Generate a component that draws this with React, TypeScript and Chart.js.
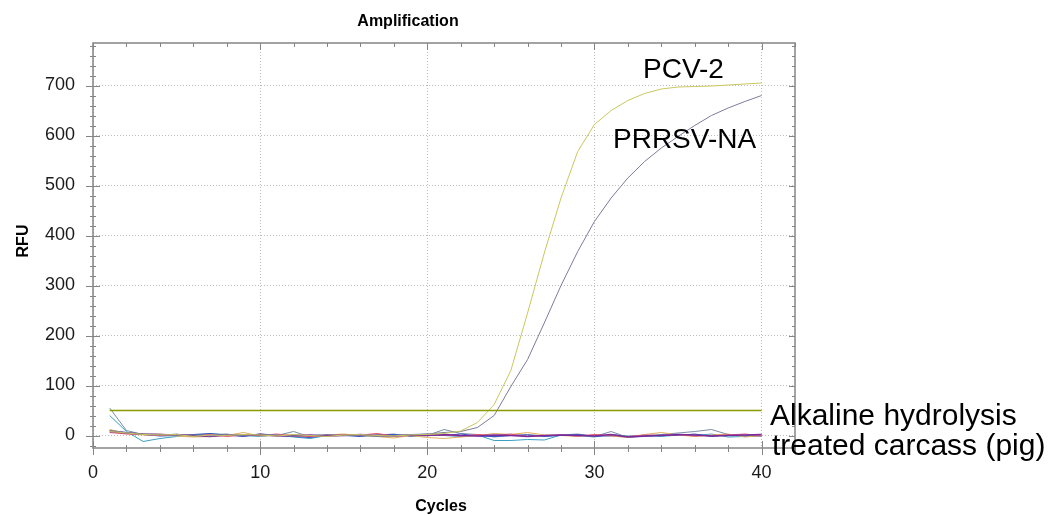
import React, { useEffect, useRef } from "react";
import { Chart, registerables } from "chart.js";

Chart.register(...registerables);

// ---------- data ----------
const CYCLES = [
  1, 2, 3, 4, 5, 6, 7, 8, 9, 10, 11, 12, 13, 14, 15, 16, 17, 18, 19, 20,
  21, 22, 23, 24, 25, 26, 27, 28, 29, 30, 31, 32, 33, 34, 35, 36, 37, 38, 39, 40,
];

const PCV2 = [
  8, 5, 2, 1, 2, -2, 1, 0, 2, 1, -1, 2, 0, -2, 1, 2, 0, -1, 1, 2,
  4, 9, 26, 62, 130, 245, 365, 475, 568, 622, 650, 670, 684, 693, 697, 698, 699, 701, 703, 705,
];

const PRRSV_NA = [
  10, 6, 3, 2, 0, 1, -1, 2, 0, 3, 1, -1, 0, 2, 0, 1, -2, 0, 2, 3,
  6, 8, 16, 40, 98, 152, 225, 300, 368, 428, 475, 515, 548, 575, 598, 620, 640, 655, 668, 680,
];

const NEG_1 = [
  55, 10, 2, 0, 3, -2, 1, 3, -1, 2, 0, 8, -3, 0, 2, -1, 1, 3, -2, 0,
  12, 4, 2, -3, 0, 2, -1, 1, 3, -2, 8, -4, 0, 2, 5, 8, 12, 2, -1, 1,
];
const NEG_2 = [
  40, 8, -12, -6, -2, 1, 3, 2, 0, -2, 1, -3, -6, 0, 2, 1, -2, 0, 1, 3,
  0, -2, 1, -10, -10, -8, -9, 1, 0, -3, 2, -1, 0, -2, 1, 0, 3, -3, -2, 0,
];
const NEG_3 = [
  12, 4, 1, 3, -1, -3, -2, 0, 6, -1, 0, 2, -2, 1, 3, 0, -2, -5, 0, -4,
  -6, -3, 0, 4, 2, 6, 1, 0, -2, 1, -1, -4, 2, 6, 1, -2, 1, 3, -3, 0,
];
const NEG_4 = [
  6, 3, 2, 0, 1, -1, 2, -2, 1, 0, 3, -1, -2, 0, 2, 1, 4, -1, 0, 2,
  1, -1, 2, 0, 3, -2, 0, 1, -1, 2, 0, -2, 1, 0, 2, -1, 0, 1, 3, -1,
];
const NEG_5 = [
  8, 5, 3, 2, 1, 0, -2, 1, 0, 2, -1, 0, 1, -1, 0, 2, 0, -1, 1, 0,
  2, 0, -1, 1, 0, -2, 0, 1, 0, -1, 2, -3, -1, 0, 2, 1, -1, 0, 1, 2,
];
const NEG_6 = [
  10, 6, 2, -1, 0, 2, 4, 1, -2, 3, 0, -2, -4, 1, 0, -2, 1, 2, -1, 1,
  0, 3, -1, -2, 0, 1, -2, 0, 2, -1, -1, -3, -2, 1, 0, 3, -2, 1, -1, -1,
];

const THRESHOLD = 50;

const X_TICKS = [0, 10, 20, 30, 40];
const Y_TICKS = [0, 100, 200, 300, 400, 500, 600, 700];
const X_MIN = 0;
const X_MAX = 42;
const Y_MIN = -25;
const Y_MAX = 785;
const X_MINOR_STEP = 2;
const Y_MINOR_STEP = 20;

const TITLE = "Amplification";
const X_TITLE = "Cycles";
const Y_TITLE = "RFU";
const LABEL_PCV2 = "PCV-2";
const LABEL_PRRSV = "PRRSV-NA";
const LABEL_NEG = ["Alkaline hydrolysis", "treated carcass (pig)"];

// ---------- helpers ----------
const toPts = (vals: number[]) => vals.map((v, i) => ({ x: CYCLES[i], y: v }));

const line = (data: { x: number; y: number }[], color: string, width = 1) => ({
  data,
  borderColor: color,
  backgroundColor: color,
  borderWidth: width,
  pointRadius: 0,
  pointHoverRadius: 0,
  tension: 0,
  fill: false,
});

const FONT = "'Liberation Sans', Arial, sans-serif";

const framePlugin = {
  id: "framePlugin",
  afterDatasetsDraw(chart: any) {
    const { ctx, chartArea: a, scales } = chart;
    const x = scales.x;
    const y = scales.y;
    ctx.save();
    ctx.strokeStyle = "#858585";
    ctx.lineWidth = 1.5;
    ctx.strokeRect(a.left, a.top, a.right - a.left, a.bottom - a.top);
    ctx.lineWidth = 1;
    ctx.beginPath();
    for (let v = X_MIN; v <= X_MAX; v += X_MINOR_STEP) {
      const px = Math.round(x.getPixelForValue(v)) + 0.5;
      const major = X_TICKS.includes(v);
      ctx.moveTo(px, a.bottom - (major ? 7 : 3));
      ctx.lineTo(px, a.bottom + (major ? 7 : 4));
      ctx.moveTo(px, a.top);
      ctx.lineTo(px, a.top + (major ? 7 : 4));
    }
    for (let v = -20; v <= Y_MAX; v += Y_MINOR_STEP) {
      const py = Math.round(y.getPixelForValue(v)) + 0.5;
      const major = Y_TICKS.includes(v);
      ctx.moveTo(a.left - (major ? 7 : 3), py);
      ctx.lineTo(a.left + (major ? 7 : 3), py);
      ctx.moveTo(a.right, py);
      ctx.lineTo(a.right - (major ? 6 : 3), py);
    }
    ctx.stroke();
    ctx.restore();
  },
  afterDraw(chart: any) {
    const { ctx, chartArea: a } = chart;
    ctx.save();
    ctx.fillStyle = "#000";
    ctx.font = `bold 16px ${FONT}`;
    ctx.textAlign = "center";
    ctx.textBaseline = "alphabetic";
    ctx.fillText(TITLE, 408, 26);
    ctx.fillText(X_TITLE, (a.left + a.right) / 2 - 3, 511);
    ctx.save();
    ctx.translate(28, 241);
    ctx.rotate(-Math.PI / 2);
    ctx.fillText(Y_TITLE, 0, 0);
    ctx.restore();

    ctx.textAlign = "left";
    ctx.font = `28px ${FONT}`;
    ctx.fillText(LABEL_PCV2, 643, 78);
    ctx.fillText(LABEL_PRRSV, 613, 148);
    ctx.font = `30px ${FONT}`;
    ctx.fillText(LABEL_NEG[0], 770, 425);
    ctx.fillText(LABEL_NEG[1], 772, 455);
    ctx.restore();
  },
};

export default function App() {
  const ref = useRef<HTMLCanvasElement>(null);

  useEffect(() => {
    if (!ref.current) return;
    const thresholdData = [
      { x: CYCLES[0], y: THRESHOLD },
      { x: CYCLES[CYCLES.length - 1], y: THRESHOLD },
    ];
    const chart = new Chart(ref.current, {
      type: "line",
      data: {
        datasets: [
          line(thresholdData, "#8a9a00", 1.3),
          line(toPts(PCV2), "#c9c75e"),
          line(toPts(PRRSV_NA), "#7d7b9c"),
          line(toPts(NEG_5), "#7a2a9a", 1.5),
          line(toPts(NEG_4), "#e05070"),
          line(toPts(NEG_3), "#e0b060"),
          line(toPts(NEG_6), "#3050c0"),
          line(toPts(NEG_2), "#3aa0c0"),
          line(toPts(NEG_1), "#7a8ea8"),
        ] as any,
      },
      options: {
        animation: false,
        responsive: false,
        layout: { padding: { left: 0, right: 269, top: 43, bottom: 0 } },
        plugins: {
          legend: { display: false },
          tooltip: { enabled: false },
          title: { display: false },
        },
        scales: {
          x: {
            type: "linear",
            min: X_MIN,
            max: X_MAX,
            afterBuildTicks: (s: any) => {
              s.ticks = X_TICKS.map((v) => ({ value: v }));
            },
            afterFit: (s: any) => {
              s.height = 515 - 448;
            },
            ticks: {
              color: "#1a1a1a",
              font: { family: FONT, size: 18 },
              padding: 14,
              maxRotation: 0,
              autoSkip: false,
            },
            grid: { color: "#bcbcbc", lineWidth: 1, drawTicks: false },
            border: { display: false, dash: [1, 2] },
          },
          y: {
            type: "linear",
            min: Y_MIN,
            max: Y_MAX,
            afterBuildTicks: (s: any) => {
              s.ticks = Y_TICKS.map((v) => ({ value: v }));
            },
            afterFit: (s: any) => {
              s.width = 93;
            },
            ticks: {
              color: "#1a1a1a",
              font: { family: FONT, size: 18 },
              padding: 18,
              autoSkip: false,
            },
            grid: { color: "#bcbcbc", lineWidth: 1, drawTicks: false },
            border: { display: false, dash: [1, 2] },
          },
        },
      } as any,
      plugins: [framePlugin],
    });
    return () => chart.destroy();
  }, []);

  return (
    <div style={{ position: "fixed", left: 0, top: 0, width: 1064, height: 515, background: "#fff" }}>
      <canvas ref={ref} width={1064} height={515} style={{ width: 1064, height: 515, display: "block" }} />
    </div>
  );
}
